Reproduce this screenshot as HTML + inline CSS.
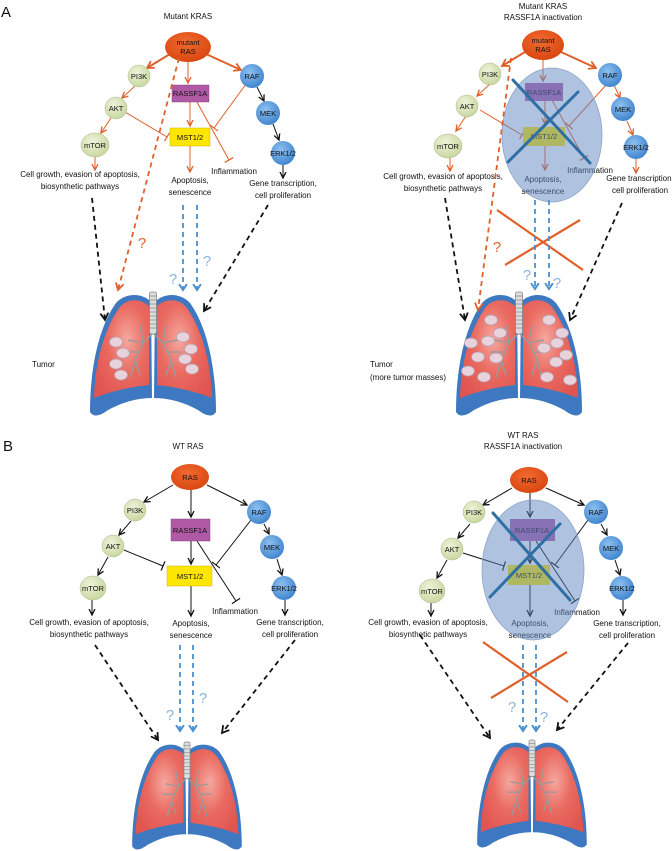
<!DOCTYPE html>
<html><head><meta charset="utf-8"><style>
html,body{margin:0;padding:0;background:#fff}
svg{display:block}
text{font-family:"Liberation Sans",sans-serif;fill:#111}
.n{font-size:7.5px;text-anchor:middle}
.d{font-size:8px;text-anchor:middle}
.q{font-size:15px;text-anchor:middle}
.big{font-size:15px}
</style></head><body>
<svg width="672" height="851" viewBox="0 0 672 851" xmlns="http://www.w3.org/2000/svg">
<defs>
<marker id="mo" markerWidth="8" markerHeight="8" refX="6" refY="4" orient="auto" markerUnits="userSpaceOnUse"><path d="M0,1 L6,4 L0,7" fill="none" stroke="#e0602a" stroke-width="1.3"/></marker>
<marker id="mk" markerWidth="8" markerHeight="8" refX="6" refY="4" orient="auto" markerUnits="userSpaceOnUse"><path d="M0,1 L6,4 L0,7" fill="none" stroke="#111" stroke-width="1.3"/></marker>
<marker id="mb" markerWidth="9" markerHeight="9" refX="6" refY="4.5" orient="auto" markerUnits="userSpaceOnUse"><path d="M0,0.5 L6,4.5 L0,8.5" fill="none" stroke="#4a90d0" stroke-width="2"/></marker>
<marker id="mk2" markerWidth="10" markerHeight="10" refX="7" refY="5" orient="auto" markerUnits="userSpaceOnUse"><path d="M0,1 L7,5 L0,9" fill="none" stroke="#111" stroke-width="1.8"/></marker>
<marker id="mo2" markerWidth="10" markerHeight="10" refX="7" refY="5" orient="auto" markerUnits="userSpaceOnUse"><path d="M0,1 L7,5 L0,9" fill="none" stroke="#e0602a" stroke-width="1.8"/></marker>
<marker id="to" markerWidth="2" markerHeight="10" refX="1" refY="5" orient="auto" markerUnits="userSpaceOnUse"><path d="M1,0 L1,10" stroke="#e0602a" stroke-width="1.2"/></marker>
<marker id="tk" markerWidth="2" markerHeight="10" refX="1" refY="5" orient="auto" markerUnits="userSpaceOnUse"><path d="M1,0 L1,10" stroke="#111" stroke-width="1.2"/></marker>
<radialGradient id="lg" cx="0.6" cy="0.4" r="0.7"><stop offset="0" stop-color="#f5a8a0"/><stop offset="0.5" stop-color="#ea6a60"/><stop offset="1" stop-color="#e05550"/></radialGradient>
<radialGradient id="gg" cx="0.4" cy="0.35" r="0.7"><stop offset="0" stop-color="#eef3da"/><stop offset="1" stop-color="#c6d69c"/></radialGradient>
<radialGradient id="bg" cx="0.4" cy="0.35" r="0.7"><stop offset="0" stop-color="#8cc0f0"/><stop offset="1" stop-color="#3d82cc"/></radialGradient>
<radialGradient id="rg" cx="0.45" cy="0.35" r="0.7"><stop offset="0" stop-color="#f06a30"/><stop offset="1" stop-color="#d8440e"/></radialGradient>
<g id="lung">
<path d="M151,302 C143,293 126,292 116,303 C100,325 90,365 90,412 Q95,420 108,410 Q130,398 152,398 Z" fill="#3d78c0"/>
<path d="M149,306 C140,298 127,298 119,308 C104,330 95,362 94,398 Q120,388 149,385 Z" fill="url(#lg)"/>
<g transform="translate(306,0) scale(-1,1)">
<path d="M151,302 C143,293 126,292 116,303 C100,325 90,365 90,412 Q95,420 108,410 Q130,398 152,398 Z" fill="#3d78c0"/>
<path d="M149,306 C140,298 127,298 119,308 C104,330 95,362 94,398 Q120,388 149,385 Z" fill="url(#lg)"/>
</g>
<g stroke="#9a9a9a" stroke-width="1.5" fill="none">
<path d="M153,333 L143,343 L135,360 L130,378 M143,343 L128,340 M138,352 L125,352 M135,360 L140,375 M143,343 L140,325"/>
<path d="M153,333 L163,343 L171,360 L176,378 M163,343 L178,340 M168,352 L181,352 M171,360 L166,375 M163,343 L166,325"/>
</g>
<rect x="149.5" y="292" width="7" height="42" rx="2" fill="#ddd" stroke="#888" stroke-width="0.8"/>
<path d="M149.5,296h7M149.5,300h7M149.5,304h7M149.5,308h7M149.5,312h7M149.5,316h7M149.5,320h7M149.5,324h7M149.5,328h7" stroke="#888" stroke-width="0.7"/>
</g>
<g id="tum"><ellipse rx="6.5" ry="5" fill="#e8d2dc" stroke="#b8a0b0" stroke-width="0.8"/></g>
</defs>

<text x="1" y="17" class="big">A</text>
<text x="3" y="451" class="big">B</text>

<!-- ===== A-left ===== -->
<text class="d" x="188" y="19">Mutant KRAS</text>
<g stroke="#e0602a" fill="none">
<line x1="170" y1="54" x2="147" y2="68" stroke-width="2" marker-end="url(#mo2)"/>
<line x1="206" y1="54" x2="241" y2="70" stroke-width="2" marker-end="url(#mo2)"/>
<line x1="188" y1="62" x2="188" y2="83" marker-end="url(#mo)"/>
<line x1="135" y1="86" x2="122" y2="98" marker-end="url(#mo)"/>
<line x1="111" y1="118" x2="101" y2="133" marker-end="url(#mo)"/>
<line x1="95" y1="157" x2="95" y2="170" marker-end="url(#mo)"/>
<line x1="190" y1="102" x2="190" y2="126" marker-end="url(#mo)"/>
<line x1="190" y1="146" x2="190" y2="172" marker-end="url(#mo)"/>
<line x1="125" y1="112" x2="167" y2="137" marker-end="url(#to)"/>
<line x1="246" y1="84" x2="214" y2="128" marker-end="url(#to)"/>
<line x1="197" y1="102" x2="229" y2="160" marker-end="url(#to)"/>
</g>
<g stroke="#111" fill="none">
<line x1="257" y1="87" x2="264" y2="101" marker-end="url(#mk)"/>
<line x1="273" y1="124" x2="279" y2="140" marker-end="url(#mk)"/>
<line x1="283" y1="165" x2="283" y2="178" marker-end="url(#mk)"/>
</g>
<ellipse cx="188" cy="47" rx="23" ry="15" fill="url(#rg)"/>
<text class="n" x="188" y="45">mutant</text><text class="n" x="188" y="54">RAS</text>
<circle cx="139" cy="76" r="11" fill="url(#gg)" stroke="#aab88a" stroke-width="0.5"/><text class="n" x="139" y="79">PI3K</text>
<circle cx="116" cy="108" r="11" fill="url(#gg)" stroke="#aab88a" stroke-width="0.5"/><text class="n" x="116" y="111">AKT</text>
<ellipse cx="95" cy="145" rx="14" ry="12" fill="url(#gg)" stroke="#aab88a" stroke-width="0.5"/><text class="n" x="95" y="148">mTOR</text>
<circle cx="252" cy="76" r="12" fill="url(#bg)"/><text class="n" x="252" y="79">RAF</text>
<circle cx="268" cy="113" r="12" fill="url(#bg)"/><text class="n" x="268" y="116">MEK</text>
<circle cx="283" cy="153" r="12" fill="url(#bg)"/><text class="n" x="283" y="156">ERK1/2</text>
<rect x="172" y="85" width="37" height="17" fill="#b05aa6" stroke="#8a4a88" stroke-width="0.5"/><text class="n" x="190" y="96">RASSF1A</text>
<rect x="170" y="128" width="40" height="18" fill="#ffe600" stroke="#c8b400" stroke-width="0.5"/><text class="n" x="190" y="140">MST1/2</text>
<text class="d" x="80" y="177">Cell growth, evasion of apoptosis,</text>
<text class="d" x="80" y="189">biosynthetic pathways</text>
<text class="d" x="190" y="183">Apoptosis,</text><text class="d" x="190" y="195">senescence</text>
<text class="d" x="234" y="174">Inflammation</text>
<text class="d" x="283" y="186">Gene transcription,</text><text class="d" x="283" y="198">cell proliferation</text>
<use href="#lung"/>
<use href="#tum" x="116" y="342"/><use href="#tum" x="123" y="353"/><use href="#tum" x="116" y="364"/><use href="#tum" x="121" y="375"/>
<use href="#tum" x="183" y="337"/><use href="#tum" x="191" y="349"/><use href="#tum" x="185" y="359"/><use href="#tum" x="192" y="369"/>
<text class="d" x="32" y="367" style="text-anchor:start">Tumor</text>
<g fill="none" stroke-width="1.8" stroke-dasharray="5,4">
<line x1="92" y1="198" x2="105" y2="320" stroke="#111" marker-end="url(#mk2)"/>
<line x1="268" y1="205" x2="204" y2="311" stroke="#111" marker-end="url(#mk2)"/>
<line x1="179" y1="58" x2="118" y2="290" stroke="#e0602a" marker-end="url(#mo2)"/>
<line x1="183" y1="205" x2="183" y2="290" stroke="#4a90d0" marker-end="url(#mb)"/>
<line x1="197" y1="205" x2="197" y2="290" stroke="#4a90d0" marker-end="url(#mb)"/>
</g>
<text class="q" x="142" y="248" style="fill:#e0602a">?</text>
<text class="q" x="173" y="284" style="fill:#8ab4e0">?</text>
<text class="q" x="207" y="266" style="fill:#8ab4e0">?</text>

<!-- ===== A-right ===== -->
<text class="d" x="543" y="9">Mutant KRAS</text>
<text class="d" x="543" y="20">RASSF1A inactivation</text>
<g transform="translate(355,-2)">
<g stroke="#e0602a" fill="none">
<line x1="170" y1="54" x2="147" y2="68" stroke-width="2" marker-end="url(#mo2)"/>
<line x1="206" y1="54" x2="241" y2="70" stroke-width="2" marker-end="url(#mo2)"/>
<line x1="188" y1="62" x2="188" y2="83" marker-end="url(#mo)"/>
<line x1="135" y1="86" x2="122" y2="98" marker-end="url(#mo)"/>
<line x1="111" y1="118" x2="101" y2="133" marker-end="url(#mo)"/>
<line x1="95" y1="160" x2="95" y2="173" marker-end="url(#mo)"/>
<line x1="190" y1="102" x2="190" y2="126" marker-end="url(#mo)"/>
<line x1="190" y1="146" x2="190" y2="172" marker-end="url(#mo)"/>
<line x1="125" y1="112" x2="167" y2="137" marker-end="url(#to)"/>
<line x1="252" y1="86" x2="214" y2="128" marker-end="url(#to)"/>
<line x1="197" y1="102" x2="229" y2="160" marker-end="url(#to)"/>
<line x1="259" y1="87" x2="265" y2="100" marker-end="url(#mo)"/>
<line x1="272" y1="123" x2="278" y2="137" marker-end="url(#mo)"/>
<line x1="281" y1="161" x2="281" y2="175" marker-end="url(#mo)"/>
</g>
<ellipse cx="188" cy="47" rx="21" ry="15" fill="url(#rg)"/>
<text class="n" x="188" y="45">mutant</text><text class="n" x="188" y="54">RAS</text>
<circle cx="135" cy="76" r="11" fill="url(#gg)" stroke="#aab88a" stroke-width="0.5"/><text class="n" x="135" y="79">PI3K</text>
<circle cx="112" cy="108" r="11" fill="url(#gg)" stroke="#aab88a" stroke-width="0.5"/><text class="n" x="112" y="111">AKT</text>
<ellipse cx="93" cy="148" rx="14" ry="12" fill="url(#gg)" stroke="#aab88a" stroke-width="0.5"/><text class="n" x="93" y="151">mTOR</text>
<circle cx="255" cy="77" r="12" fill="url(#bg)"/><text class="n" x="255" y="80">RAF</text>
<circle cx="268" cy="111" r="12" fill="url(#bg)"/><text class="n" x="268" y="114">MEK</text>
<circle cx="281" cy="149" r="12" fill="url(#bg)"/><text class="n" x="281" y="152">ERK1/2</text>
<rect x="170" y="85" width="38" height="18" fill="#b05aa6"/><text class="n" x="189" y="97">RASSF1A</text>
<rect x="168" y="129" width="42" height="19" fill="#ffe600"/><text class="n" x="189" y="141">MST1/2</text>
<text class="d" x="88" y="181">Cell growth, evasion of apoptosis,</text>
<text class="d" x="88" y="193">biosynthetic pathways</text>
<text class="d" x="188" y="184">Apoptosis,</text><text class="d" x="188" y="196">senescence</text>
<text class="d" x="235" y="175">Inflammation</text>
<text class="d" x="285" y="183">Gene transcription,</text><text class="d" x="285" y="195">cell proliferation</text>
</g>
<ellipse cx="552" cy="135" rx="50" ry="67" fill="rgba(95,135,195,0.5)" stroke="#8aa4c8" stroke-width="0.8"/>
<g stroke="#2e6fa4" stroke-width="3" stroke-linecap="round">
<line x1="513" y1="80" x2="590" y2="163"/><line x1="578" y1="92" x2="508" y2="162"/>
</g>
<use href="#lung" x="366"/>
<use href="#tum" x="491" y="320"/><use href="#tum" x="500" y="333"/><use href="#tum" x="488" y="341"/><use href="#tum" x="471" y="343"/>
<use href="#tum" x="478" y="357"/><use href="#tum" x="496" y="358"/><use href="#tum" x="468" y="371"/><use href="#tum" x="484" y="377"/>
<use href="#tum" x="549" y="320"/><use href="#tum" x="562" y="333"/><use href="#tum" x="557" y="343"/><use href="#tum" x="544" y="348"/>
<use href="#tum" x="566" y="355"/><use href="#tum" x="556" y="362"/><use href="#tum" x="547" y="377"/><use href="#tum" x="570" y="380"/>
<text class="d" x="370" y="367" style="text-anchor:start">Tumor</text>
<text class="d" x="370" y="380" style="text-anchor:start">(more tumor masses)</text>
<g stroke="#e0602a" stroke-width="2.2"><line x1="497" y1="210" x2="583" y2="270"/><line x1="580" y1="220" x2="505" y2="265"/></g>
<g fill="none" stroke-width="1.8" stroke-dasharray="5,4">
<line x1="445" y1="198" x2="465" y2="320" stroke="#111" marker-end="url(#mk2)"/>
<line x1="622" y1="203" x2="570" y2="320" stroke="#111" marker-end="url(#mk2)"/>
<line x1="511" y1="58" x2="478" y2="310" stroke="#e0602a" marker-end="url(#mo2)"/>
<line x1="535" y1="200" x2="535" y2="289" stroke="#4a90d0" marker-end="url(#mb)"/>
<line x1="549" y1="200" x2="549" y2="289" stroke="#4a90d0" marker-end="url(#mb)"/>
</g>
<text class="q" x="497" y="252" style="fill:#e0602a">?</text>
<text class="q" x="527" y="280" style="fill:#8ab4e0">?</text>
<text class="q" x="557" y="288" style="fill:#8ab4e0">?</text>

<!-- ===== B-left ===== -->
<text class="d" x="188" y="449">WT RAS</text>
<g stroke="#111" fill="none">
<line x1="173" y1="485" x2="144" y2="502" marker-end="url(#mk)"/>
<line x1="207" y1="485" x2="247" y2="505" marker-end="url(#mk)"/>
<line x1="191" y1="490" x2="191" y2="517" marker-end="url(#mk)"/>
<line x1="131" y1="521" x2="119" y2="535" marker-end="url(#mk)"/>
<line x1="108" y1="557" x2="98" y2="575" marker-end="url(#mk)"/>
<line x1="92" y1="600" x2="92" y2="615" marker-end="url(#mk)"/>
<line x1="264" y1="524" x2="269" y2="534" marker-end="url(#mk)"/>
<line x1="277" y1="559" x2="282" y2="575" marker-end="url(#mk)"/>
<line x1="285" y1="600" x2="285" y2="615" marker-end="url(#mk)"/>
<line x1="191" y1="541" x2="191" y2="564" marker-end="url(#mk)"/>
<line x1="191" y1="586" x2="191" y2="616" marker-end="url(#mk)"/>
<line x1="124" y1="550" x2="163" y2="566" marker-end="url(#tk)"/>
<line x1="251" y1="520" x2="216" y2="565" marker-end="url(#tk)"/>
<line x1="197" y1="541" x2="236" y2="601" marker-end="url(#tk)"/>
</g>
<ellipse cx="190" cy="477" rx="19" ry="13" fill="url(#rg)"/><text class="n" x="190" y="480">RAS</text>
<circle cx="135" cy="510" r="11" fill="url(#gg)" stroke="#aab88a" stroke-width="0.5"/><text class="n" x="135" y="513">PI3K</text>
<circle cx="113" cy="546" r="11" fill="url(#gg)" stroke="#aab88a" stroke-width="0.5"/><text class="n" x="113" y="549">AKT</text>
<ellipse cx="93" cy="588" rx="13" ry="12" fill="url(#gg)" stroke="#aab88a" stroke-width="0.5"/><text class="n" x="93" y="591">mTOR</text>
<circle cx="259" cy="512" r="12" fill="url(#bg)"/><text class="n" x="259" y="515">RAF</text>
<circle cx="272" cy="547" r="12" fill="url(#bg)"/><text class="n" x="272" y="550">MEK</text>
<circle cx="284" cy="588" r="12" fill="url(#bg)"/><text class="n" x="284" y="591">ERK1/2</text>
<rect x="171" y="519" width="39" height="22" fill="#b05aa6" stroke="#8a4a88" stroke-width="0.5"/><text class="n" x="190" y="533">RASSF1A</text>
<rect x="167" y="566" width="45" height="20" fill="#ffe600" stroke="#c8b400" stroke-width="0.5"/><text class="n" x="190" y="579">MST1/2</text>
<text class="d" x="89" y="625">Cell growth, evasion of apoptosis,</text>
<text class="d" x="89" y="637">biosynthetic pathways</text>
<text class="d" x="191" y="626">Apoptosis,</text><text class="d" x="191" y="638">senescence</text>
<text class="d" x="235" y="614">Inflammation</text>
<text class="d" x="290" y="625">Gene transcription,</text><text class="d" x="290" y="637">cell proliferation</text>
<use href="#lung" transform="translate(187,742) scale(0.87) translate(-153,-292)"/>
<g fill="none" stroke-width="1.8" stroke-dasharray="5,4">
<line x1="95" y1="645" x2="158" y2="740" stroke="#111" marker-end="url(#mk2)"/>
<line x1="295" y1="640" x2="222" y2="733" stroke="#111" marker-end="url(#mk2)"/>
<line x1="180" y1="645" x2="180" y2="731" stroke="#4a90d0" marker-end="url(#mb)"/>
<line x1="193" y1="645" x2="193" y2="731" stroke="#4a90d0" marker-end="url(#mb)"/>
</g>
<text class="q" x="170" y="720" style="fill:#8ab4e0">?</text>
<text class="q" x="203" y="703" style="fill:#8ab4e0">?</text>

<!-- ===== B-right ===== -->
<text class="d" x="523" y="438">WT RAS</text>
<text class="d" x="523" y="449">RASSF1A inactivation</text>
<g transform="translate(339,3)">
<g stroke="#111" fill="none">
<line x1="173" y1="485" x2="144" y2="502" marker-end="url(#mk)"/>
<line x1="207" y1="485" x2="245" y2="502" marker-end="url(#mk)"/>
<line x1="191" y1="490" x2="191" y2="514" marker-end="url(#mk)"/>
<line x1="131" y1="521" x2="119" y2="535" marker-end="url(#mk)"/>
<line x1="108" y1="557" x2="98" y2="575" marker-end="url(#mk)"/>
<line x1="92" y1="600" x2="92" y2="613" marker-end="url(#mk)"/>
<line x1="262" y1="521" x2="268" y2="532" marker-end="url(#mk)"/>
<line x1="276" y1="557" x2="281" y2="572" marker-end="url(#mk)"/>
<line x1="284" y1="597" x2="284" y2="612" marker-end="url(#mk)"/>
<line x1="191" y1="538" x2="191" y2="560" marker-end="url(#mk)"/>
<line x1="191" y1="582" x2="191" y2="613" marker-end="url(#mk)"/>
<line x1="124" y1="550" x2="165" y2="563" marker-end="url(#tk)"/>
<line x1="249" y1="517" x2="216" y2="562" marker-end="url(#tk)"/>
<line x1="197" y1="538" x2="236" y2="598" marker-end="url(#tk)"/>
</g>
<ellipse cx="190" cy="477" rx="19" ry="13" fill="url(#rg)"/><text class="n" x="190" y="480">RAS</text>
<circle cx="135" cy="509" r="11" fill="url(#gg)" stroke="#aab88a" stroke-width="0.5"/><text class="n" x="135" y="512">PI3K</text>
<circle cx="113" cy="546" r="11" fill="url(#gg)" stroke="#aab88a" stroke-width="0.5"/><text class="n" x="113" y="549">AKT</text>
<ellipse cx="93" cy="588" rx="13" ry="12" fill="url(#gg)" stroke="#aab88a" stroke-width="0.5"/><text class="n" x="93" y="591">mTOR</text>
<circle cx="257" cy="509" r="12" fill="url(#bg)"/><text class="n" x="257" y="512">RAF</text>
<circle cx="272" cy="545" r="12" fill="url(#bg)"/><text class="n" x="272" y="548">MEK</text>
<circle cx="283" cy="585" r="12" fill="url(#bg)"/><text class="n" x="283" y="588">ERK1/2</text>
<rect x="171" y="516" width="45" height="22" fill="#b05aa6"/><text class="n" x="193" y="530">RASSF1A</text>
<rect x="169" y="562" width="42" height="20" fill="#ffe600"/><text class="n" x="190" y="575">MST1/2</text>
<text class="d" x="89" y="622">Cell growth, evasion of apoptosis,</text>
<text class="d" x="89" y="634">biosynthetic pathways</text>
<text class="d" x="191" y="623">Apoptosis,</text><text class="d" x="191" y="635">senescence</text>
<text class="d" x="238" y="612">Inflammation</text>
<text class="d" x="288" y="623">Gene transcription,</text><text class="d" x="288" y="635">cell proliferation</text>
</g>
<ellipse cx="533" cy="570" rx="51" ry="70" fill="rgba(95,135,195,0.5)" stroke="#8aa4c8" stroke-width="0.8"/>
<g stroke="#2e6fa4" stroke-width="3" stroke-linecap="round">
<line x1="493" y1="513" x2="570" y2="600"/><line x1="560" y1="524" x2="490" y2="597"/>
</g>
<use href="#lung" transform="translate(532,740) scale(0.87) translate(-153,-292)"/>
<g stroke="#e0602a" stroke-width="2.2"><line x1="483" y1="642" x2="568" y2="702"/><line x1="567" y1="652" x2="491" y2="698"/></g>
<g fill="none" stroke-width="1.8" stroke-dasharray="5,4">
<line x1="420" y1="635" x2="490" y2="738" stroke="#111" marker-end="url(#mk2)"/>
<line x1="628" y1="643" x2="557" y2="730" stroke="#111" marker-end="url(#mk2)"/>
<line x1="523" y1="645" x2="523" y2="731" stroke="#4a90d0" marker-end="url(#mb)"/>
<line x1="536" y1="645" x2="536" y2="731" stroke="#4a90d0" marker-end="url(#mb)"/>
</g>
<text class="q" x="512" y="712" style="fill:#8ab4e0">?</text>
<text class="q" x="544" y="722" style="fill:#8ab4e0">?</text>
</svg>
</body></html>
